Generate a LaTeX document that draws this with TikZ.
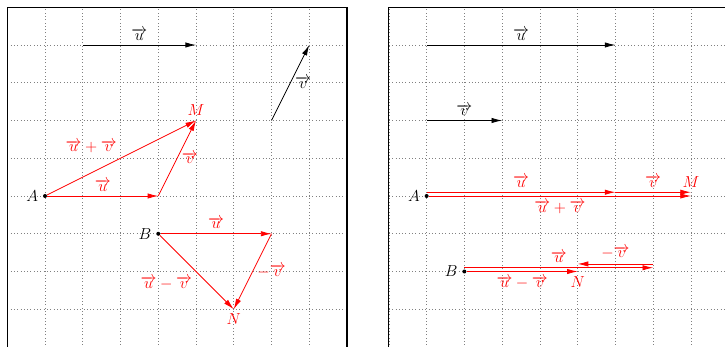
\documentclass[tikz,border=0pt]{standalone}
\usetikzlibrary{arrows.meta}
\begin{document}
\begin{tikzpicture}[
  font=\large,
  vec/.style={-{Latex[length=8pt,width=4pt]}, line width=0.6pt},
  rv/.style={vec, red},
  gridline/.style={gray, dotted, line width=0.5pt},
  frameline/.style={line width=0.8pt},
  pt/.style={circle, fill=black, inner sep=0pt, minimum size=3pt},
  rl/.style={red},
]
\useasboundingbox (-1.192,-7.974) rectangle (18.013,1.192);
\clip (-1.192,-7.974) rectangle (18.013,1.192);

% ---------------- left panel ----------------
\draw[gridline] (-1,-9) grid (8,1);
\draw[frameline] (-1,-8.5) rectangle (8,1);

\coordinate (u1) at (1,0);
\coordinate (u2) at (4,0);
\draw[vec] (u1) -- node[above] (lu) {$\overrightarrow{u}$} (u2);
\coordinate (v1) at (6,-2);
\coordinate (v2) at (7,0);
\draw[vec] (v1) -- node[right] (lv) {$\overrightarrow{v}$} (v2);

\node[pt, label=left:$A$] (A) at (0,-4) {};
\coordinate (P) at (3,-4);
\coordinate (M) at (4,-2);
\node[rl, above] (lM) at (M) {$M$};
\draw[rv] (A) -- node[rl, above] (lau) {$\overrightarrow{u}$} (P);
\draw[rv] (P) -- node[rl, right] (lav) {$\overrightarrow{v}$} (M);
\draw[rv] (A) -- node[rl, above left] (lauv) {$\overrightarrow{u}+\overrightarrow{v}$} (M);

\node[pt, label=left:$B$] (B) at (3,-5) {};
\coordinate (Q) at (6,-5);
\coordinate (N) at (5,-7);
\node[rl, below] (lN) at (N) {$N$};
\draw[rv] (B) -- node[rl, above] (lbu) {$\overrightarrow{u}$} (Q);
\draw[rv] (Q) -- node[rl, right] (lbv) {$-\overrightarrow{v}$} (N);
\draw[rv] (B) -- node[rl, below left] (lbuv) {$\overrightarrow{u}-\overrightarrow{v}$} (N);

% ---------------- right panel ----------------
\begin{scope}[xshift=10.11cm]
\draw[gridline] (-1,-9) grid (8,1);
\draw[frameline] (-1,-8.5) rectangle (9,1);

\coordinate (ru1) at (0,0);
\coordinate (ru2) at (5,0);
\draw[vec] (ru1) -- node[above] (rlu) {$\overrightarrow{u}$} (ru2);
\coordinate (rv1) at (0,-2);
\coordinate (rv2) at (2,-2);
\draw[vec] (rv1) -- node[above] (rlv) {$\overrightarrow{v}$} (rv2);

\node[pt, label=left:$A$] (A2) at (0,-4) {};
\coordinate (M2) at (7,-4);
\coordinate (A2u) at (0,-3.9);
\coordinate (P2u) at (5,-3.9);
\coordinate (M2u) at (7,-3.9);
\node[rl, above] (lM2) at (M2u) {$M$};
\draw[rv] (A2u) -- node[rl, above] (l2au) {$\overrightarrow{u}$} (P2u);
\draw[rv] (P2u) -- node[rl, above] (l2av) {$\overrightarrow{v}$} (M2u);
\draw[rv] (A2) -- node[rl, below] (l2auv) {$\overrightarrow{u}+\overrightarrow{v}$} (M2);

\node[pt, label=left:$B$] (B2) at (1,-6) {};
\coordinate (N2) at (4,-6);
\coordinate (B2u) at (1,-5.9);
\coordinate (Q2u) at (6,-5.9);
\coordinate (Q2v) at (6,-5.8);
\coordinate (N2v) at (4,-5.8);
\node[rl, below] (lN2) at (N2) {$N$};
\draw[rv] (B2u) -- node[rl, above] (l2bu) {$\overrightarrow{u}$} (Q2u);
\draw[rv] (Q2v) -- node[rl, above] (l2bv) {$-\overrightarrow{v}$} (N2v);
\draw[rv] (B2) -- node[rl, below] (l2buv) {$\overrightarrow{u}-\overrightarrow{v}$} (N2);
\end{scope}
\end{tikzpicture}
\end{document}
